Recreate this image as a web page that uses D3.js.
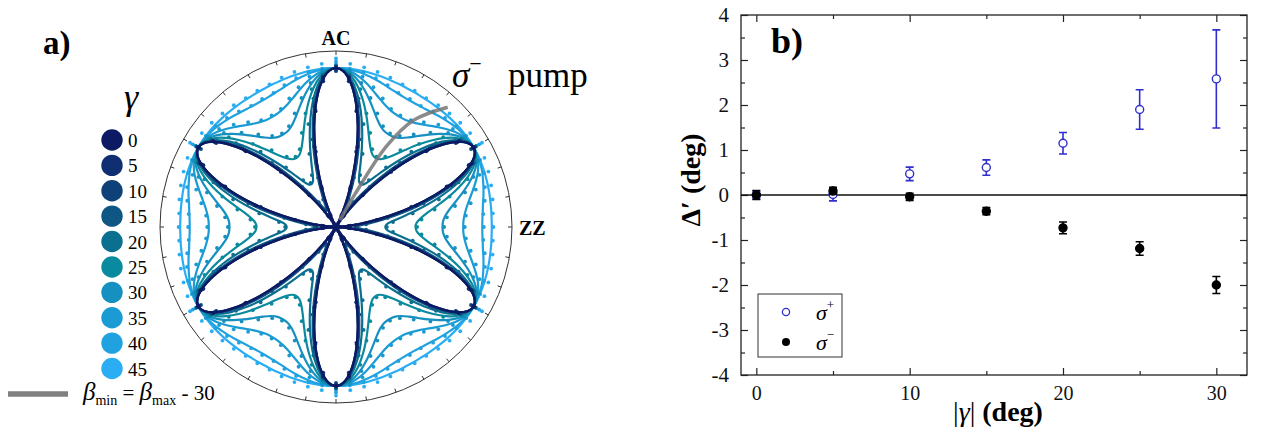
<!DOCTYPE html>
<html>
<head>
<meta charset="utf-8">
<script src="https://cdn.jsdelivr.net/npm/d3@7"></script>
<style>
    body { margin: 0; background: #fff; }
    svg text { font-family: 'Liberation Serif', 'Times New Roman', serif; }
</style>
</head>
<body>
<svg id="plot"></svg>
<script>
// ---- panel a data ----
const gammas = [0, 5, 10, 15, 20, 25, 30, 35, 40, 45];
const gammaColors = ['#0b1a63', '#0f2f72', '#0d4178', '#0e5684', '#0b6f90',
                     '#0a8a9e', '#1590c0', '#1b9bd3', '#20a2e0', '#2aadf2'];

// fitted radius (fraction of petal max), every 3 deg from petal axis (0) to gap centre (30)
const fitStep = 3;
const fitG0  = [1, .976, .905, .794, .655, .5, .345, .206, .095, .024, 0];
const fitG5  = [1, .976, .906, .796, .658, .505, .352, .214, .104, .034, .01];
const fitG10 = [1, .977, .909, .802, .669, .52, .371, .238, .131, .063, .04];
const fitG15 = [1, .979, .916, .819, .696, .56, .424, .301, .204, .141, .12];
const fitG20 = [1, .982, .930, .850, .748, .636, .527, .432, .360, .320, .31];
const fitG25 = [1, .987, .950, .890, .815, .733, .653, .585, .537, .508, .5];
const fitG30 = [1, .991, .966, .926, .876, .822, .770, .725, .692, .674, .67];
const fitG35 = [1, .995, .979, .955, .924, .891, .860, .834, .815, .803, .8];
const fitG40 = [1, .998, .992, .984, .972, .96, .948, .936, .928, .922, .92];
const fitG45 = [1, 1, .998, .996, .993, .99, .987, .984, .982, .98, .98];

// measured points, every 5 deg over the same half sector
const dotStep = 5;
const dotG0  = [1.0, .94, .74, .52, .26, .08, .03];
const dotG5  = [.99, .92, .77, .49, .27, .09, .02];
const dotG10 = [1.01, .95, .75, .53, .29, .12, .05];
const dotG15 = [.98, .93, .79, .57, .33, .19, .13];
const dotG20 = [1.01, .96, .82, .67, .49, .36, .32];
const dotG25 = [1.01, .97, .88, .74, .63, .54, .51];
const dotG30 = [1.02, .99, .92, .84, .76, .70, .68];
const dotG35 = [1.02, .98, .96, .91, .86, .82, .81];
const dotG40 = [1.04, 1.0, .99, .97, .95, .93, .93];
const dotG45 = [1.06, 1.03, 1.02, 1.01, 1.0, .99, .99];

const fits = [fitG0, fitG5, fitG10, fitG15, fitG20, fitG25, fitG30, fitG35, fitG40, fitG45];
const dots = [dotG0, dotG5, dotG10, dotG15, dotG20, dotG25, dotG30, dotG35, dotG40, dotG45];

// beta_min = beta_max - 30 guide (angle from AC, radius)
const pumpAngles = [30, 30, 32, 36, 43];
const pumpRadii = [0.05, 0.24, 0.6, 0.83, 1.03];

// ---- panel b data ----
const gammaAbs = [0, 5, 10, 15, 20, 25, 30];
const sigmaPlus = [0.0, 0.01, 0.47, 0.61, 1.15, 1.9, 2.58];
const sigmaPlusErr = [0.08, 0.14, 0.15, 0.17, 0.24, 0.44, 1.09];
const sigmaMinus = [0.0, 0.09, -0.04, -0.36, -0.73, -1.19, -2.0];
const sigmaMinusErr = [0.1, 0.08, 0.08, 0.08, 0.13, 0.15, 0.19];

const serif = "'Liberation Serif', 'Times New Roman', serif";

let width = 1263;
let height = 428;

let svg = d3.select('#plot')
    .attr('width', width)
    .attr('height', height)
    .style('font-family', serif);

// expand a half-sector into a full turn using the 6-fold mirror symmetry
function expand(values, step) {
    let pts = [];
    for (let a = 0; a < 360; a += step) {
        let p = a % 60;
        let i = p <= 30 ? p / step : (60 - p) / step;
        pts.push({ a: a, r: values[i] });
    }
    return pts;
}

// ================= panel a =================
let cx = 336, cy = 227, R = 176;
let polar = svg.append('g').attr('transform', `translate(${cx}, ${cy})`);
let rScale = d3.scaleLinear().domain([0, 1]).range([0, 159]);
let toRad = d => d * Math.PI / 180;

polar.append('circle')
    .attr('r', R)
    .attr('fill', 'none')
    .attr('stroke', '#333')
    .attr('stroke-width', 1);

polar.selectAll('.rtick')
    .data(d3.range(0, 360, 10))
    .enter()
    .append('line')
    .attr('x1', d => R * Math.sin(toRad(d)))
    .attr('y1', d => -R * Math.cos(toRad(d)))
    .attr('x2', d => (R - 4) * Math.sin(toRad(d)))
    .attr('y2', d => -(R - 4) * Math.cos(toRad(d)))
    .attr('stroke', '#333')
    .attr('stroke-width', 1);

let radial = d3.lineRadial()
    .angle(d => toRad(d.a))
    .radius(d => rScale(d.r))
    .curve(d3.curveCatmullRomClosed);

// light curves first so the dark petals stay on top
for (let k = gammas.length - 1; k >= 0; k--) {
    polar.append('path')
        .datum(expand(fits[k], fitStep))
        .attr('d', radial)
        .attr('fill', 'none')
        .attr('stroke', gammaColors[k])
        .attr('stroke-width', 2.2);

    polar.selectAll('.dot' + k)
        .data(expand(dots[k], dotStep))
        .enter()
        .append('circle')
        .attr('cx', d => rScale(d.r) * Math.sin(toRad(d.a)))
        .attr('cy', d => -rScale(d.r) * Math.cos(toRad(d.a)))
        .attr('r', 1.9)
        .attr('fill', gammaColors[k]);
}

let pumpLine = d3.lineRadial()
    .angle(d => toRad(d[0]))
    .radius(d => rScale(d[1]))
    .curve(d3.curveCatmullRom);

polar.append('path')
    .datum(pumpAngles.map((a, i) => [a, pumpRadii[i]]))
    .attr('d', pumpLine)
    .attr('fill', 'none')
    .attr('stroke', '#777')
    .attr('stroke-opacity', 0.85)
    .attr('stroke-width', 3.5);

svg.append('text')
    .attr('x', cx).attr('y', 45)
    .attr('text-anchor', 'middle')
    .attr('font-size', 20).attr('font-weight', 'bold')
    .text('AC');

svg.append('text')
    .attr('x', 519).attr('y', 235)
    .attr('font-size', 20).attr('font-weight', 'bold')
    .text('ZZ');

let pumpText = svg.append('text')
    .attr('x', 452).attr('y', 87)
    .attr('font-size', 35);
pumpText.append('tspan').attr('font-style', 'italic').text('σ');
pumpText.append('tspan').attr('font-size', 22).attr('dy', -16).text('−');
pumpText.append('tspan').attr('x', 508).attr('dy', 16).text('pump');

svg.append('text')
    .attr('x', 43).attr('y', 54)
    .attr('font-size', 33).attr('font-weight', 'bold')
    .text('a)');

// gamma legend
let legendY = d3.scaleLinear().domain([0, 45]).range([140, 368.5]);

svg.append('text')
    .attr('x', 131).attr('y', 109)
    .attr('text-anchor', 'middle')
    .attr('font-size', 36).attr('font-style', 'italic')
    .text('γ');

let legendA = svg.selectAll('.legendA')
    .data(gammas)
    .enter()
    .append('g')
    .attr('transform', d => `translate(112, ${legendY(d)})`);

legendA.append('circle')
    .attr('r', 10.7)
    .attr('fill', (d, i) => gammaColors[i]);

legendA.append('text')
    .attr('x', 16)
    .attr('y', 7)
    .attr('font-size', 19)
    .text(d => d);

svg.append('line')
    .attr('x1', 8).attr('x2', 68)
    .attr('y1', 394).attr('y2', 394)
    .attr('stroke', '#808080')
    .attr('stroke-width', 5.5);

let betaText = svg.append('text')
    .attr('x', 83).attr('y', 400)
    .attr('font-size', 21);
betaText.append('tspan').attr('font-style', 'italic').attr('font-size', 25).text('β');
betaText.append('tspan').attr('font-size', 14).attr('dy', 5).text('min');
betaText.append('tspan').attr('dy', -5).text(' = ');
betaText.append('tspan').attr('font-style', 'italic').attr('font-size', 25).text('β');
betaText.append('tspan').attr('font-size', 14).attr('dy', 5).text('max');
betaText.append('tspan').attr('dy', -5).text(' - 30');

// ================= panel b =================
let xScale = d3.scaleLinear().domain([-1, 32]).range([741, 1247]);
let yScale = d3.scaleLinear().domain([-4, 4]).range([375, 15]);

function styleAxis(g) {
    g.attr('font-family', serif);
    g.select('.domain').remove();
    g.selectAll('line').attr('stroke', '#222').attr('stroke-width', 1.2);
    g.selectAll('text')
        .style('font-family', serif)
        .attr('fill', '#111');
}

// bottom
svg.append('g')
    .attr('transform', `translate(0, ${yScale(-4)})`)
    .call(d3.axisBottom(xScale).tickValues([0, 10, 20, 30]).tickSize(-7).tickPadding(11))
    .call(styleAxis)
    .selectAll('text').attr('font-size', 20);
svg.append('g')
    .attr('transform', `translate(0, ${yScale(-4)})`)
    .call(d3.axisBottom(xScale).tickValues([5, 15, 25]).tickSize(-4).tickFormat(''))
    .call(styleAxis);
// top
svg.append('g')
    .attr('transform', `translate(0, ${yScale(4)})`)
    .call(d3.axisTop(xScale).tickValues([0, 10, 20, 30]).tickSize(-7).tickFormat(''))
    .call(styleAxis);
svg.append('g')
    .attr('transform', `translate(0, ${yScale(4)})`)
    .call(d3.axisTop(xScale).tickValues([5, 15, 25]).tickSize(-4).tickFormat(''))
    .call(styleAxis);
// left
svg.append('g')
    .attr('transform', `translate(${xScale(-1)}, 0)`)
    .call(d3.axisLeft(yScale).tickValues(d3.range(-4, 5)).tickSize(-7).tickPadding(12)
        .tickFormat(d => String(d)))
    .call(styleAxis)
    .selectAll('text').attr('font-size', 21);
svg.append('g')
    .attr('transform', `translate(${xScale(-1)}, 0)`)
    .call(d3.axisLeft(yScale).tickValues(d3.range(-3.5, 4, 1)).tickSize(-4).tickFormat(''))
    .call(styleAxis);
// right
svg.append('g')
    .attr('transform', `translate(${xScale(32)}, 0)`)
    .call(d3.axisRight(yScale).tickValues(d3.range(-4, 5)).tickSize(-7).tickFormat(''))
    .call(styleAxis);
svg.append('g')
    .attr('transform', `translate(${xScale(32)}, 0)`)
    .call(d3.axisRight(yScale).tickValues(d3.range(-3.5, 4, 1)).tickSize(-4).tickFormat(''))
    .call(styleAxis);

// frame
svg.append('rect')
    .attr('x', xScale(-1))
    .attr('y', yScale(4))
    .attr('width', xScale(32) - xScale(-1))
    .attr('height', yScale(-4) - yScale(4))
    .attr('fill', 'none')
    .attr('stroke', '#222')
    .attr('stroke-width', 1.3);

// zero line
svg.append('line')
    .attr('x1', xScale(-1)).attr('x2', xScale(32))
    .attr('y1', yScale(0)).attr('y2', yScale(0))
    .attr('stroke', '#111')
    .attr('stroke-width', 1.6);

function drawSeries(values, errs, color, filled) {
    let g = svg.append('g');
    let pts = gammaAbs.map((x, i) => ({ x: x, y: values[i], e: errs[i] }));

    g.selectAll('.bar')
        .data(pts)
        .enter()
        .append('path')
        .attr('d', d => {
            let x = xScale(d.x), y1 = yScale(d.y + d.e), y2 = yScale(d.y - d.e);
            return `M${x},${y1}V${y2}M${x - 4},${y1}H${x + 4}M${x - 4},${y2}H${x + 4}`;
        })
        .attr('fill', 'none')
        .attr('stroke', color)
        .attr('stroke-width', 1.6);

    g.selectAll('.pt')
        .data(pts)
        .enter()
        .append('circle')
        .attr('cx', d => xScale(d.x))
        .attr('cy', d => yScale(d.y))
        .attr('r', 4)
        .attr('fill', filled ? color : '#fff')
        .attr('stroke', color)
        .attr('stroke-width', 1.4);
}

drawSeries(sigmaPlus, sigmaPlusErr, '#2f2fd0', false);
drawSeries(sigmaMinus, sigmaMinusErr, '#000', true);

// legend box
svg.append('rect')
    .attr('x', 758).attr('y', 294)
    .attr('width', 84).attr('height', 63)
    .attr('fill', '#fff')
    .attr('stroke', '#333')
    .attr('stroke-width', 1);

svg.append('circle')
    .attr('cx', 786).attr('cy', 312).attr('r', 3.6)
    .attr('fill', '#fff').attr('stroke', '#2f2fd0').attr('stroke-width', 1.3);
svg.append('circle')
    .attr('cx', 786).attr('cy', 342).attr('r', 4)
    .attr('fill', '#000');

let lp = svg.append('text').attr('x', 816).attr('y', 320).attr('font-size', 22);
lp.append('tspan').attr('font-style', 'italic').text('σ');
lp.append('tspan').attr('font-size', 13).attr('dy', -11).text('+');

let lm = svg.append('text').attr('x', 816).attr('y', 350).attr('font-size', 22);
lm.append('tspan').attr('font-style', 'italic').text('σ');
lm.append('tspan').attr('font-size', 13).attr('dy', -11).text('−');

svg.append('text')
    .attr('x', 771).attr('y', 53)
    .attr('font-size', 36).attr('font-weight', 'bold')
    .text('b)');

// axis titles
svg.append('text')
    .attr('transform', 'translate(700, 180) rotate(-90)')
    .attr('text-anchor', 'middle')
    .attr('font-size', 28).attr('font-weight', 'bold')
    .text('Δ′ (deg)');

let xt = svg.append('text')
    .attr('x', 998).attr('y', 421)
    .attr('text-anchor', 'middle')
    .attr('font-size', 28);
xt.append('tspan').text('|');
xt.append('tspan').attr('font-style', 'italic').text('γ');
xt.append('tspan').text('| ');
xt.append('tspan').attr('font-weight', 'bold').text('(deg)');
</script>
</body>
</html>
